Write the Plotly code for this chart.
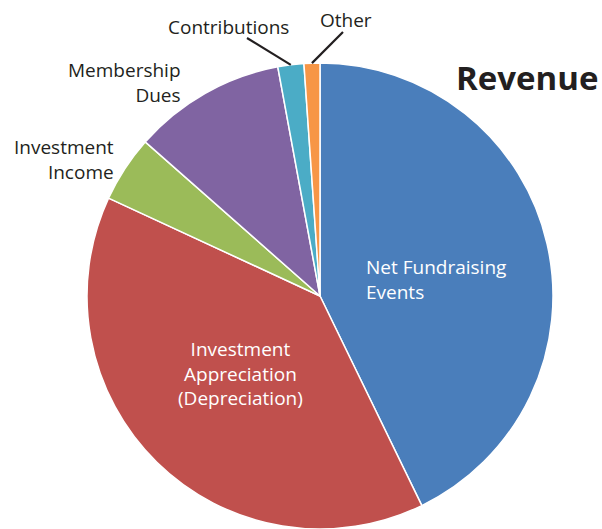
import math
import plotly.graph_objects as go

# ---- data ----
categories = ["Net Fundraising Events", "Investment Appreciation (Depreciation)",
              "Investment Income", "Membership Dues", "Contributions", "Other"]
values = [42.8, 39.1, 4.6, 10.6, 1.8, 1.1]
colors = ["#4A7EBB", "#C0504D", "#9BBB59", "#8064A2", "#4BACC6", "#F79646"]
label_lines = [["Net Fundraising", "Events"],
               ["Investment", "Appreciation", "(Depreciation)"],
               ["Investment", "Income"],
               ["Membership", "Dues"],
               ["Contributions"],
               ["Other"]]
title_text = "Revenue"

W, H = 602, 529
# pie geometry (pixels)
cx, cy, r = 320, 296, 233
dom_x = [(cx - r) / W, (cx + r) / W]
dom_y = [1 - (cy + r) / H, 1 - (cy - r) / H]

def px(x, y):
    return x / W, 1 - y / H

fig = go.Figure(go.Pie(
    labels=categories, values=values, sort=False, direction="clockwise", rotation=0,
    marker=dict(colors=colors, line=dict(color="white", width=1.5)),
    textinfo="none", hoverinfo="label+percent", showlegend=False,
    domain=dict(x=dom_x, y=dom_y),
))

font = "Open Sans, Noto Sans, sans-serif"
dark = "#231F20"
# label placement (pixels): anchor x, centre y, alignment, colour
label_pos = [
    (364, 279, "left", "white"),
    (240, 373, "center", "white"),
    (116, 159, "right", dark),
    (183, 82, "right", dark),
    (228, 27, "center", dark),
    (346, 20, "center", dark),
]
for lines, (x, y, al, col) in zip(label_lines, label_pos):
    ax_, ay_ = px(x, y)
    fig.add_annotation(x=ax_, y=ay_, xref="paper", yref="paper", text="<br>".join(lines),
                       showarrow=False, xanchor=al, yanchor="middle", align=al,
                       font=dict(family=font, size=19, color=col))

# leader lines computed from slice mid-angles
total = sum(values)
cum = 0
starts = {"Contributions": (247, 38), "Other": (343, 32)}
for cat, v in zip(categories, values):
    mid = (cum + v / 2) / total * 2 * math.pi
    cum += v
    if cat in starts:
        ex = cx + r * math.sin(mid)
        ey = cy - r * math.cos(mid)
        sx, sy = starts[cat]
        x0, y0 = px(sx, sy)
        x1, y1 = px(ex, ey)
        fig.add_shape(type="line", xref="paper", yref="paper", x0=x0, y0=y0, x1=x1, y1=y1,
                      line=dict(color=dark, width=2.2))

tx, ty = px(527, 78)
fig.add_annotation(x=tx, y=ty, xref="paper", yref="paper", text="<b>" + title_text + "</b>",
                   showarrow=False, xanchor="center", yanchor="middle",
                   font=dict(family=font, size=33, color=dark))

fig.update_layout(width=W, height=H, margin=dict(l=0, r=0, t=0, b=0),
                  paper_bgcolor="white", plot_bgcolor="white")
fig.write_html("out.html", config={"displayModeBar": False})

# remove default body margin so the figure sits at the window origin
with open("out.html", "r", encoding="utf-8") as f:
    html = f.read()
html = html.replace("<head>", "<head><style>html,body{margin:0;padding:0;overflow:hidden;}</style>", 1)
with open("out.html", "w", encoding="utf-8") as f:
    f.write(html)
